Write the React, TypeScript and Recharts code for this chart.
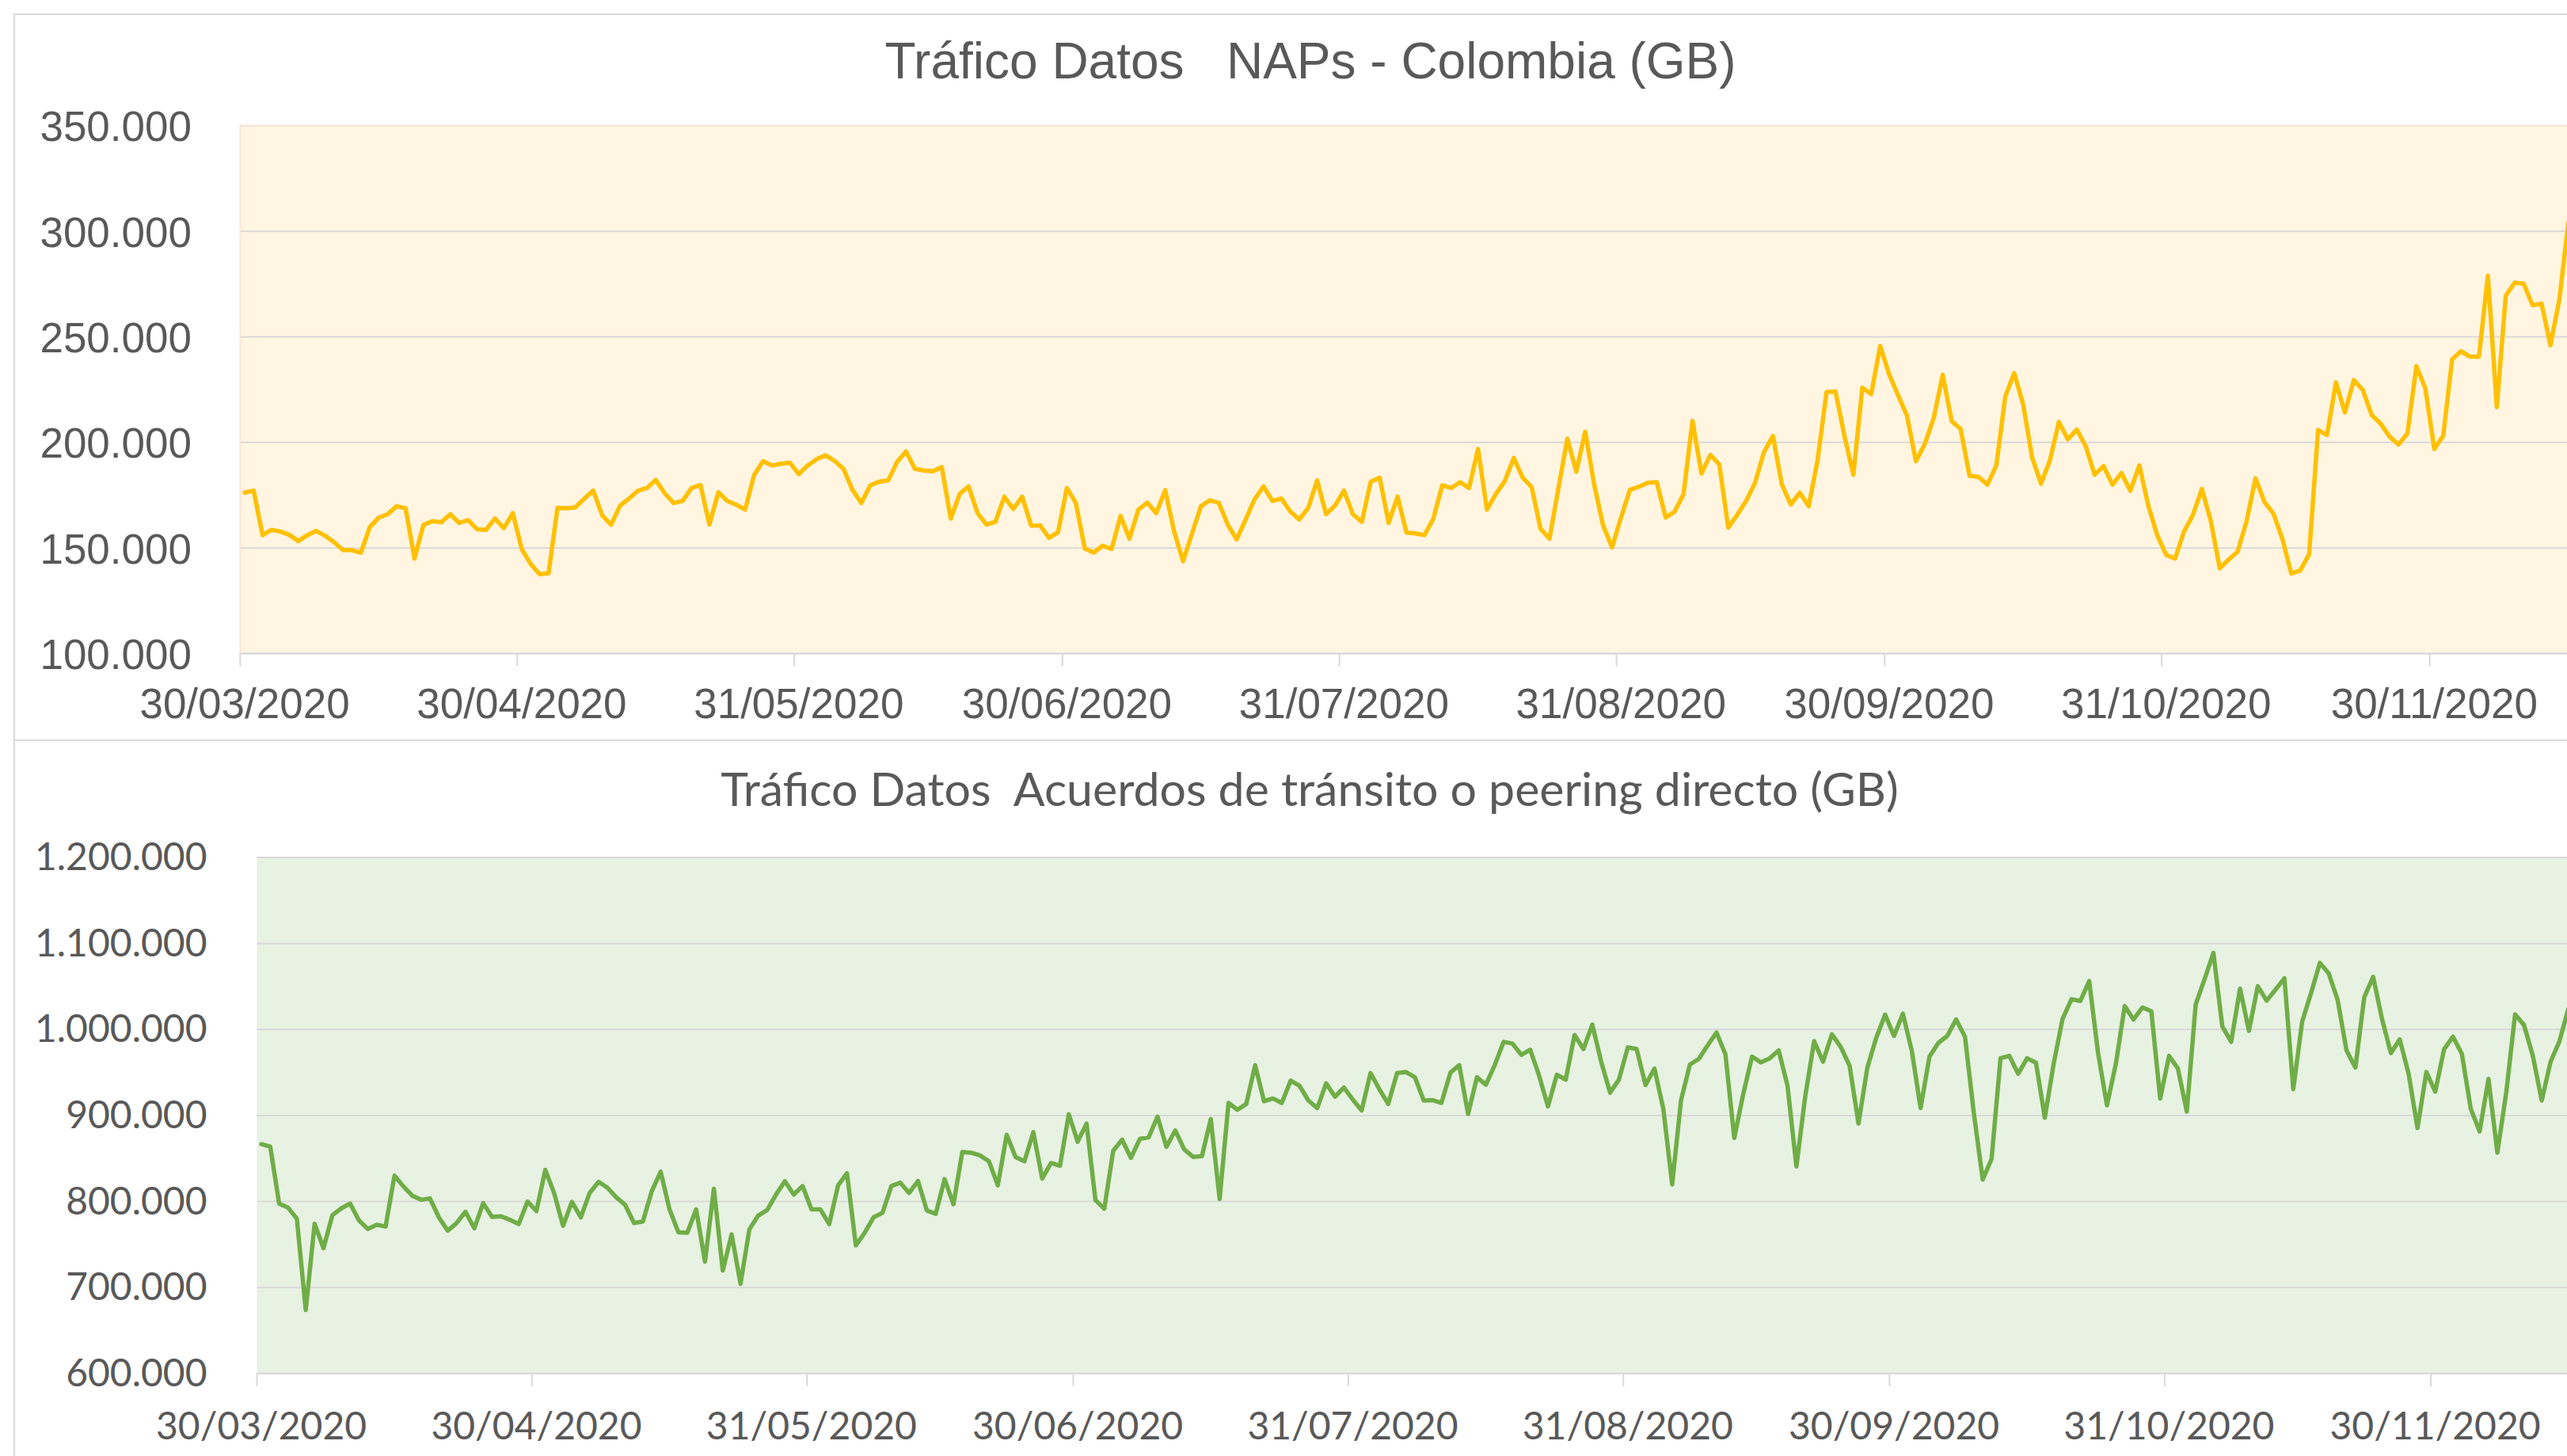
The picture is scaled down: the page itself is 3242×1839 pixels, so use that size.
import { LineChart, Line, XAxis, YAxis, CartesianGrid } from "recharts";

// days since 30/03/2020 where the axis puts a tick, and the label shown there
const tickDays = [0, 31, 62, 92, 123, 154, 184, 215, 245];
const tickLabels = [
  "30/03/2020", "30/04/2020", "31/05/2020", "30/06/2020", "31/07/2020",
  "31/08/2020", "30/09/2020", "31/10/2020", "30/11/2020",
];

// daily traffic, GB, one value per day from 30/03/2020
const napsGB = [
  176200, 177200, 156100, 158600, 157800, 156200, 153300, 156100, 158100, 155800,
  152800, 149000, 149000, 147800, 159900, 164400, 166000, 169800, 168800, 145000,
  161000, 162700, 162200, 166000, 161900, 163200, 158900, 158600, 164000, 159400,
  166500, 149500, 142400, 137600, 138100, 169000, 168800, 169300, 173400, 177200,
  165500, 161000, 170100, 173400, 177100, 178400, 182200, 175900, 171300, 172300,
  178400, 179800, 161100, 176400, 172300, 170500, 168200, 184600, 191100, 189100,
  189900, 190400, 185000, 189100, 192100, 193900, 191300, 187500, 177600, 171300,
  179700, 181400, 182000, 190800, 195700, 187500, 186700, 186300, 188300, 163900,
  175600, 179200, 166500, 161100, 162400, 174300, 168500, 174300, 160600, 160700,
  154800, 157400, 178400, 171300, 149800, 147800, 151100, 149500, 165200, 154400,
  168200, 171500, 166500, 177400, 157800, 143700, 156900, 169800, 172600, 171400,
  161000, 154100, 163500, 173100, 179200, 172300, 173400, 167300, 163500, 169000,
  182000, 166000, 170100, 177200, 166000, 162400, 181400, 183300, 161900, 174300,
  157300, 156900, 156100, 163900, 179700, 178400, 181200, 178400, 196900, 168200,
  175600, 181700, 192700, 183300, 178900, 159100, 154400, 178400, 201800, 186100,
  205100, 180000, 160700, 150300, 164400, 177600, 179000, 180900, 181200, 164400,
  167200, 175600, 210200, 185300, 194100, 189600, 159700, 165700, 172300, 180900,
  195400, 203100, 180000, 170600, 176200, 169800, 191600, 223800, 224100, 203100,
  184700, 225900, 222900, 245700, 232300, 222400, 212700, 191100, 199300, 211700,
  232000, 210100, 206400, 184200, 183700, 180000, 189100, 221800, 232800, 218000,
  192900, 180500, 191600, 209700, 201500, 206100, 198200, 184700, 188800, 180000,
  185500, 177100, 189100, 170100, 156100, 146700, 145000, 157800, 165700, 178000,
  162700, 140400, 144500, 148300, 162700, 183000, 171800, 166300, 154400, 137900,
  139300, 147000, 205900, 203500, 228400, 214200, 229500, 224900, 213000, 208900,
  202800, 199000, 204300, 236100, 225700, 196900, 203100, 239400, 243200, 240600,
  240600, 279000, 216700, 269500, 275700, 275200, 265000, 265800, 246000, 267800,
  304000,
];

const peeringGB = [
  866700, 863900, 797600, 792800, 780000, 673800, 774000, 745700, 784000, 792000,
  797600, 778000, 768100, 772900, 770900, 829900, 817600, 806800, 802000, 803600,
  781600, 766100, 774900, 788000, 768900, 798000, 782000, 782800, 778800, 773700,
  800000, 788800, 836700, 809600, 771700, 799600, 781600, 810000, 822800, 816000,
  804800, 796000, 774900, 776800, 812000, 834700, 790800, 764100, 763700, 790800,
  730100, 814800, 719800, 761700, 704200, 767700, 783600, 790000, 808000, 823600,
  808000, 817900, 790800, 790800, 773700, 818800, 832700, 748900, 763700, 781600,
  786800, 817900, 821900, 809900, 823900, 789600, 785600, 825900, 796800, 857500,
  856700, 853500, 846700, 818800, 877500, 851500, 846700, 880600, 826700, 844700,
  841500, 901400, 869500, 890600, 801600, 791600, 858700, 871900, 850700, 872700,
  874700, 898600, 863500, 882600, 860700, 851900, 852700, 895800, 802800, 914600,
  906600, 913400, 958500, 916600, 919800, 914600, 940500, 934500, 917400, 908600,
  937300, 921800, 932500, 918600, 905800, 949300, 930500, 913400, 949300, 950500,
  944500, 917400, 917800, 914600, 949700, 958500, 901800, 944500, 935700, 958500,
  985600, 983600, 970500, 976400, 946500, 910600, 947300, 941700, 993600, 977200,
  1005600, 962500, 926500, 941700, 979200, 977200, 935300, 954500, 907800, 819900,
  917800, 959300, 965700, 981600, 996400, 971300, 873800, 924500, 968500, 961700,
  966500, 975600, 934500, 840700, 922600, 986400, 962500, 994400, 979600, 957700,
  890600, 955700, 990400, 1017200, 992400, 1018400, 975600, 908600, 968500, 984400,
  992400, 1011600, 991600, 902600, 825500, 849500, 966500, 969300, 948500, 966500,
  961300, 897400, 960500, 1012400, 1035100, 1033100, 1056300, 972500, 911800, 959700,
  1027200, 1011600, 1025600, 1021200, 919800, 969300, 954500, 904600, 1029100, 1058300,
  1089000, 1003600, 985600, 1047500, 998400, 1050300, 1033500, 1046300, 1059500, 930500,
  1009200, 1042300, 1077400, 1065100, 1034300, 975600, 955700, 1037500, 1061100, 1012400,
  972500, 988400, 948500, 885400, 950500, 927700, 977200, 991600, 971700, 907800,
  881400, 942500, 856700, 926500, 1017600, 1005200, 969300, 917400, 962500, 986400,
  1024000,
];

const napsTicks = [100000, 150000, 200000, 250000, 300000, 350000];
const peeringTicks = [600000, 700000, 800000, 900000, 1000000, 1100000, 1200000];

const TEXT = "#595959";
const GRID = "#d9d9d9";
const DAYS_SHOWN = 261;

// 350000 -> "350.000"
const fmtMiles = (n: number) => String(n).replace(/\B(?=(\d{3})+(?!\d))/g, ".");

// a point sits in the middle of its day slot, like an Excel date axis
const napsData = napsGB.map((v, i) => ({ day: i + 0.5, v }));
const peeringData = peeringGB.map((v, i) => ({ day: i + 0.5, v }));

const dateTick = (font: string, size: number, halfDay: number, drop: number) => (p: any) => (
  <text x={p.x + halfDay} y={p.y + drop} textAnchor="middle" fontFamily={font} fontSize={size} fill={TEXT}>
    {tickLabels[tickDays.indexOf(p.payload.value)]}
  </text>
);

const valueTick = (font: string, size: number, gap: number, drop: number) => (p: any) => (
  <text x={p.x - gap} y={p.y + drop} textAnchor="end" fontFamily={font} fontSize={size} fill={TEXT}>
    {fmtMiles(p.payload.value)}
  </text>
);

export default function App() {
  return (
    <div style={{ position: "absolute", left: 0, top: 0, width: 3242, height: 1839, overflow: "hidden", background: "#fff" }}>
      {/* frames and titles */}
      <svg width={3242} height={1839} style={{ position: "absolute", left: 0, top: 0 }}>
        <rect x={18} y={18} width={3400} height={917} fill="none" stroke={GRID} strokeWidth={2} />
        <rect x={18} y={935} width={3400} height={1000} fill="none" stroke={GRID} strokeWidth={2} />
        <text x={1655} y={99} textAnchor="middle" fontFamily="Liberation Sans" fontSize={64} fill={TEXT} style={{ whiteSpace: "pre" }}>
          {"Tráfico Datos   NAPs - Colombia (GB)"}
        </text>
        <text x={1654} y={1018} textAnchor="middle" fontFamily="Lato" fontSize={59} fill={TEXT} style={{ whiteSpace: "pre" }}>
          {"Tráfico Datos  Acuerdos de tránsito o peering directo (GB)"}
        </text>
      </svg>

      <div style={{ position: "absolute", left: 0, top: 0 }}>
        <LineChart width={3300} height={935} data={napsData} margin={{ top: 158.8, right: 50.7, bottom: 0, left: 0 }}>
          <CartesianGrid vertical={false} stroke={GRID} strokeWidth={2} fill="#FFF5E1" fillOpacity={1} />
          <XAxis
            dataKey="day" type="number" domain={[0, DAYS_SHOWN]} ticks={tickDays} interval={0}
            height={109.5} axisLine={{ stroke: GRID, strokeWidth: 2 }} tickLine={{ stroke: GRID, strokeWidth: 2 }}
            tickSize={16} tickMargin={0} tick={dateTick("Liberation Sans", 53, 5.64, 65.8)}
          />
          <YAxis
            type="number" domain={[100000, 350000]} ticks={napsTicks} interval={0} width={303.4}
            axisLine={false} tickLine={false} tickSize={0} tickMargin={0}
            tick={valueTick("Liberation Sans", 53, 61.4, 19.5)}
          />
          <Line
            dataKey="v" type="linear" stroke="#FFC000" strokeWidth={5.5} dot={false}
            strokeLinejoin="round" strokeLinecap="round" isAnimationActive={false}
          />
        </LineChart>
      </div>

      <div style={{ position: "absolute", left: 0, top: 935 }}>
        <LineChart width={3300} height={904} data={peeringData} margin={{ top: 148, right: 50.7, bottom: 0, left: 0 }}>
          <CartesianGrid vertical={false} stroke={GRID} strokeWidth={2} fill="#E8F2E3" fillOpacity={1} />
          <XAxis
            dataKey="day" type="number" domain={[0, DAYS_SHOWN]} ticks={tickDays} interval={0}
            height={104.2} axisLine={{ stroke: GRID, strokeWidth: 2 }} tickLine={{ stroke: GRID, strokeWidth: 2 }}
            tickSize={16} tickMargin={0} tick={dateTick("Lato", 48, 5.6, 67.2)}
          />
          <YAxis
            type="number" domain={[600000, 1200000]} ticks={peeringTicks} interval={0} width={324.5}
            axisLine={false} tickLine={false} tickSize={0} tickMargin={0}
            tick={valueTick("Lato", 48, 63, 16)}
          />
          <Line
            dataKey="v" type="linear" stroke="#70AD47" strokeWidth={5.5} dot={false}
            strokeLinejoin="round" strokeLinecap="round" isAnimationActive={false}
          />
        </LineChart>
      </div>

      {/* peach edge of the upper plot area */}
      <svg width={3242} height={935} style={{ position: "absolute", left: 0, top: 0, pointerEvents: "none" }}>
        <line x1={303.4} y1={158.8} x2={3300} y2={158.8} stroke="#FBE5D6" strokeWidth={2} />
        <line x1={303.4} y1={158.8} x2={303.4} y2={825.5} stroke="#FBE5D6" strokeWidth={2} />
      </svg>
    </div>
  );
}
